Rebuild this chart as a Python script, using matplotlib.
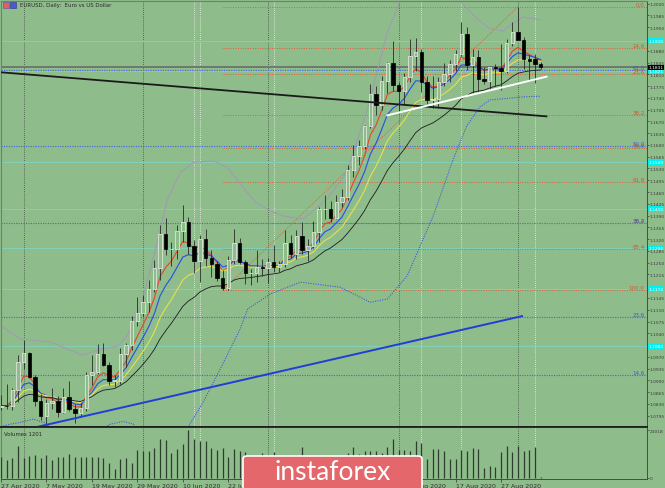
import matplotlib
matplotlib.use('Agg')
import matplotlib.pyplot as plt
import matplotlib.transforms as mtransforms
from matplotlib.patches import FancyBboxPatch, Rectangle
import numpy as np
import pandas as pd

# ---- EURUSD daily, 27 Apr 2020 .. 7 Sep 2020 (bar index 0..95) ----
opens = [1.0822, 1.0825, 1.0823, 1.0872, 1.0954, 1.0981, 1.0909, 1.0839, 1.0794, 1.0833,
         1.0840, 1.0806, 1.0851, 1.0815, 1.0803, 1.0819, 1.0917, 1.0925, 1.0977, 1.0947,
         1.0899, 1.0899, 1.0977, 1.1005, 1.1076, 1.1100, 1.1134, 1.1171, 1.1235, 1.1336,
         1.1290, 1.1292, 1.1343, 1.1371, 1.1299, 1.1255, 1.1319, 1.1263, 1.1246, 1.1203,
         1.1175, 1.1257, 1.1307, 1.1251, 1.1219, 1.1219, 1.1238, 1.1234, 1.1251, 1.1238,
         1.1246, 1.1309, 1.1275, 1.1329, 1.1288, 1.1300, 1.1342, 1.1410, 1.1411, 1.1383,
         1.1429, 1.1445, 1.1526, 1.1567, 1.1596, 1.1656, 1.1752, 1.1718, 1.1790, 1.1845,
         1.1778, 1.1760, 1.1801, 1.1863, 1.1876, 1.1787, 1.1735, 1.1738, 1.1786, 1.1812,
         1.1842, 1.1869, 1.1930, 1.1837, 1.1861, 1.1795, 1.1791, 1.1833, 1.1829, 1.1820,
         1.1903, 1.1935, 1.1913, 1.1855, 1.1856, 1.1842]
highs = [1.0855, 1.0890, 1.0877, 1.0974, 1.1019, 1.0985, 1.0915, 1.0858, 1.0845, 1.0876,
         1.0852, 1.0877, 1.0897, 1.0830, 1.0833, 1.0926, 1.0976, 1.1008, 1.1011, 1.0956,
         1.0915, 1.0996, 1.1010, 1.1090, 1.1147, 1.1153, 1.1198, 1.1258, 1.1361, 1.1384,
         1.1310, 1.1361, 1.1422, 1.1387, 1.1317, 1.1331, 1.1349, 1.1287, 1.1256, 1.1227,
         1.1269, 1.1349, 1.1322, 1.1259, 1.1232, 1.1287, 1.1260, 1.1263, 1.1302, 1.1256,
         1.1346, 1.1331, 1.1346, 1.1372, 1.1321, 1.1375, 1.1414, 1.1452, 1.1434, 1.1451,
         1.1470, 1.1539, 1.1601, 1.1616, 1.1660, 1.1782, 1.1776, 1.1806, 1.1846, 1.1909,
         1.1786, 1.1815, 1.1916, 1.1917, 1.1885, 1.1806, 1.1805, 1.1802, 1.1843, 1.1852,
         1.1882, 1.1966, 1.1951, 1.1884, 1.1883, 1.1833, 1.1835, 1.1840, 1.1901, 1.1916,
         1.1966, 1.2011, 1.1921, 1.1868, 1.1870, 1.1846]
lows = [1.0812, 1.0815, 1.0811, 1.0836, 1.0935, 1.0907, 1.0825, 1.0782, 1.0767, 1.0815,
        1.0791, 1.0803, 1.0810, 1.0774, 1.0790, 1.0810, 1.0887, 1.0918, 1.0942, 1.0885,
        1.0880, 1.0890, 1.0939, 1.0989, 1.1062, 1.1091, 1.1104, 1.1164, 1.1197, 1.1274,
        1.1239, 1.1260, 1.1311, 1.1277, 1.1220, 1.1193, 1.1241, 1.1208, 1.1196, 1.1168,
        1.1168, 1.1246, 1.1247, 1.1187, 1.1184, 1.1192, 1.1209, 1.1188, 1.1223, 1.1223,
        1.1238, 1.1263, 1.1260, 1.1277, 1.1256, 1.1293, 1.1311, 1.1380, 1.1370, 1.1379,
        1.1416, 1.1437, 1.1506, 1.1541, 1.1588, 1.1650, 1.1688, 1.1705, 1.1754, 1.1761,
        1.1696, 1.1721, 1.1786, 1.1819, 1.1756, 1.1723, 1.1711, 1.1710, 1.1776, 1.1788,
        1.1821, 1.1863, 1.1824, 1.1753, 1.1753, 1.1782, 1.1767, 1.1776, 1.1762, 1.1813,
        1.1893, 1.1914, 1.1827, 1.1789, 1.1785, 1.1826]
closes = [1.0825, 1.0823, 1.0872, 1.0954, 1.0981, 1.0909, 1.0839, 1.0794, 1.0833, 1.0840,
          1.0806, 1.0851, 1.0815, 1.0803, 1.0819, 1.0917, 1.0925, 1.0977, 1.0947, 1.0899,
          1.0899, 1.0977, 1.1005, 1.1076, 1.1100, 1.1134, 1.1171, 1.1235, 1.1336, 1.1290,
          1.1292, 1.1343, 1.1371, 1.1299, 1.1255, 1.1319, 1.1263, 1.1246, 1.1203, 1.1175,
          1.1257, 1.1307, 1.1251, 1.1219, 1.1219, 1.1238, 1.1234, 1.1251, 1.1238, 1.1246,
          1.1309, 1.1275, 1.1329, 1.1288, 1.1300, 1.1342, 1.1410, 1.1411, 1.1383, 1.1429,
          1.1445, 1.1526, 1.1567, 1.1596, 1.1656, 1.1752, 1.1718, 1.1790, 1.1845, 1.1778,
          1.1760, 1.1801, 1.1863, 1.1876, 1.1787, 1.1735, 1.1738, 1.1786, 1.1812, 1.1842,
          1.1869, 1.1930, 1.1837, 1.1861, 1.1795, 1.1791, 1.1833, 1.1829, 1.1820, 1.1903,
          1.1935, 1.1913, 1.1855, 1.1850, 1.1842, 1.1831]
volumes = [9000, 8030, 8610, 14160, 8610, 9780, 10070, 8610, 10070, 7880,
           9050, 9340, 10510, 9340, 9050, 9340, 9050, 9340, 8610, 6420,
           3940, 8320, 8610, 6570, 12410, 11970, 11970, 12990, 17080, 16640,
           10800, 12700, 14890, 21018, 17080, 16060, 16060, 13140, 12260, 13140,
           9340, 12700, 11970, 11240, 8800, 8500, 10950, 8800, 11530, 8600,
           9000, 10070, 10070, 13430, 9000, 9200, 8900, 9100, 8800, 9000,
           8500, 10950, 13430, 10510, 11680, 11970, 11680, 10950, 13430, 17080,
           12260, 12410, 11970, 16060, 15180, 8320, 12700, 12700, 11970, 8320,
           8320, 12260, 11830, 13140, 12700, 4380, 5400, 4960, 11240, 14160,
           11240, 14160, 11970, 12260, 13430, 580]

date_labels = ['27 Apr 2020', '7 May 2020', '19 May 2020', '29 May 2020', '10 Jun 2020',
               '22 Jun 2020', '2 Jul 2020', '14 Jul 2020', '24 Jul 2020', '5 Aug 2020',
               '17 Aug 2020', '27 Aug 2020']
date_label_bars = [0, 8, 16, 24, 32, 40, 48, 56, 64, 72, 80, 88]
month_start_bars = [4, 25, 47, 70, 91]
marker_bars = [34, 35, 48, 74, 81, 94]

# Bollinger-type bands: (bar, price)
upper_band_bars = [0, 3.4, 8.7, 11.7, 14.3, 17.5, 20.5, 22.2, 23.3, 24.5, 27.5, 29.3, 31.6,
                   33.9, 37.4, 39.8, 42.1, 44.8, 47.4, 49.7, 53.2, 57.4, 60.9, 64.5, 68.0,
                   69.7, 72.0, 76.4, 80.0, 80.8, 83.8, 86.1, 88.4, 90.1, 91.9, 95.0]
upper_band = [1.1062, 1.1023, 1.1014, 1.0993, 1.0975, 1.0993, 1.1002, 1.1032, 1.1076, 1.1112,
              1.1311, 1.1439, 1.1519, 1.1549, 1.1552, 1.1534, 1.1484, 1.1430, 1.1404, 1.1389,
              1.1380, 1.1439, 1.1519, 1.1707, 1.1936, 1.2004, 1.2123, 1.2168, 1.2049, 1.2028,
              1.1975, 1.1945, 1.1939, 1.1963, 1.1980, 1.1972]
lower_band_bars = [0, 1.7, 3.4, 5.7, 7.5, 8.7, 12.2, 15.8, 19.3, 21.5, 23.3, 25.4, 28.0,
                   30.7, 33.0, 35.6, 38.6, 42.1, 43.4, 47.4, 52.7, 59.7, 65.0, 68.0, 71.5,
                   76.1, 79.6, 82.0, 84.3, 86.1, 88.9, 91.9, 95.0]
lower_band = [1.0763, 1.0770, 1.0775, 1.0785, 1.0775, 1.0760, 1.0726, 1.0741, 1.0770, 1.0778,
              1.0770, 1.0711, 1.0711, 1.0726, 1.0763, 1.0836, 1.0934, 1.1053, 1.1112, 1.1157,
              1.1192, 1.1177, 1.1132, 1.1142, 1.1211, 1.1390, 1.1558, 1.1657, 1.1713, 1.1734,
              1.1738, 1.1743, 1.1745]

# moving average periods (red, blue, yellow, black)
ma_periods = [5, 8, 13, 21]

# Fibonacci grids
red_fib_levels = [0.0, 14.6, 23.6, 38.2, 50.0, 61.8, 76.4, 85.4, 100.0]
red_fib_high, red_fib_low = 1.2011, 1.1168
red_fib_bars = (39, 91)
blue_fib_levels = [14.6, 23.6, 38.2, 50.0, 61.8]
blue_fib_low, blue_fib_high = 1.0636, 1.2555

# support / resistance levels (cyan)
cyan_levels = [1.1910, 1.1821, 1.1549, 1.1410, 1.1295, 1.1172, 1.1002]
last_price = 1.1831

# trend lines: (bar0, price0, bar1, price1)
black_trend = (0, 1.1816, 96, 1.1685)
white_trend = (68, 1.1688, 96, 1.1803)
blue_trend = (0, 1.0737, 91.7, 1.1091)

price_ticks = [round(1.2020 - 0.0035 * k, 4) for k in range(36)]

# ---------------- drawing ----------------
BG = '#8fbc8b'
W, H = 665, 489
PX_PER_BAR = 5.686

fig = plt.figure(figsize=(W / 100, H / 100), dpi=100, facecolor=BG)
ax = fig.add_axes([1 / W, 61 / H, 646 / W, 426 / H], facecolor=BG)
axv = fig.add_axes([1 / W, 9 / H, 646 / W, 52 / H], facecolor=BG, sharex=ax)

x0 = (1 - 0.5) / PX_PER_BAR
x1 = (647 - 0.5) / PX_PER_BAR
ax.set_xlim(x0, x1)
ax.set_ylim(1.07613, 1.20280)
axv.set_ylim(-438, 22332)

o = np.array(opens)
h = np.array(highs)
l = np.array(lows)
c = np.array(closes)
idx = np.arange(len(c))

# vertical separators
for a in (ax, axv):
    for b in month_start_bars:
        a.axvline(b, color='#3f4f3f', ls=(0, (1, 1.5)), lw=0.6, zorder=1)
    for b in marker_bars:
        a.axvline(b, color='#eef4ec', ls=(0, (1, 1.5)), lw=0.6, zorder=1)

# cyan levels
for p in cyan_levels:
    ax.axhline(p, color='#7fd3c0', lw=0.6, zorder=1)

# blue fibonacci (full width)
for lev in blue_fib_levels:
    p = blue_fib_low + lev / 100 * (blue_fib_high - blue_fib_low)
    ax.axhline(p, color='#4466dd', ls=(0, (1, 1.2)), lw=0.8, zorder=1)

# red fibonacci (from anchor to the right)
for lev in red_fib_levels:
    p = red_fib_high - lev / 100 * (red_fib_high - red_fib_low)
    ax.plot([red_fib_bars[0], x1], [p, p], color='#d9603c', ls=(0, (1, 1.5)), lw=0.7, zorder=1)
ax.plot(red_fib_bars, [red_fib_low, red_fib_high], color='#d9603c', ls=(0, (1, 1.5)), lw=0.7, zorder=1)

# current price line
ax.axhline(last_price, color='#6c7a6c', lw=1.4, zorder=2)

# bands
ax.plot(upper_band_bars, upper_band, color='#a09cb4', lw=0.8, zorder=2)
ax.plot(lower_band_bars, lower_band, color='#3a5fd6', ls=(0, (1, 1.2)), lw=0.8, zorder=2)

# moving averages
ma_colors = ['#e8442c', '#2a4ee6', '#e4e24c', '#1c1c1c']
ma_widths = [0.8, 0.8, 0.8, 0.6]
cs = pd.Series(c)
for n, col, lw in zip(ma_periods, ma_colors, ma_widths):
    ax.plot(idx, cs.ewm(span=n, adjust=False).mean(), color=col, lw=lw, zorder=3)

# trend lines
ax.plot(black_trend[::2], black_trend[1::2], color='#1a1a1a', lw=1.3, zorder=6)
ax.plot(white_trend[::2], white_trend[1::2], color='#ffffff', lw=1.4, zorder=6)
ax.plot(blue_trend[::2], blue_trend[1::2], color='#1f3ed6', lw=1.4, zorder=6)

# candles
up = c >= o
ax.vlines(idx, l, h, color='#2a2a2a', lw=0.6, zorder=4)
body_up = np.maximum((c - o)[up], 0.00006)
body_dn = np.maximum((o - c)[~up], 0.00006)
ax.bar(idx[up], body_up, bottom=o[up], width=0.6, color=BG,
       edgecolor='#dde5da', lw=0.6, zorder=5)
ax.bar(idx[~up], body_dn, bottom=c[~up], width=0.6, color='#000000',
       edgecolor='#000000', lw=0.5, zorder=5)

# volumes
axv.vlines(idx, 0, volumes, color='#2e3e2e', lw=0.9, zorder=3)

# axes styling
ax.yaxis.tick_right()
ax.set_yticks(price_ticks)
ax.set_yticklabels([f'{t:.4f}' for t in price_ticks])
ax.tick_params(axis='y', labelsize=3.2, length=1.5, pad=0.4, colors='#3a3a3a', width=0.5)
ax.tick_params(axis='x', bottom=False, labelbottom=False)
for s in ('left', 'top'):
    ax.spines[s].set_color('#6f806f')
    ax.spines[s].set_linewidth(0.8)
ax.spines['right'].set_color('#4a4a4a')
ax.spines['right'].set_linewidth(0.7)
ax.spines['bottom'].set_color('#1f1f1f')
ax.spines['bottom'].set_linewidth(1.3)

axv.yaxis.tick_right()
axv.set_yticks([0, 21018])
axv.set_yticklabels(['0', '21018'])
axv.tick_params(axis='y', labelsize=3.2, length=1.5, pad=0.4, colors='#3a3a3a', width=0.5)
axv.set_xticks(date_label_bars)
axv.set_xticklabels(date_labels, ha='left')
axv.tick_params(axis='x', labelsize=4.5, length=2, pad=1, colors='#2f2f2f', width=0.5)
axv.spines['top'].set_color('#1f1f1f')
axv.spines['top'].set_linewidth(1.3)
axv.spines['left'].set_color('#6f806f')
for s in ('right', 'bottom'):
    axv.spines[s].set_color('#4a4a4a')
    axv.spines[s].set_linewidth(0.7)
axv.text(0.004, 0.93, 'Volumes 1201', transform=axv.transAxes, fontsize=3.9,
         color='#2a2a2a', va='top', ha='left')

# fib labels
tr = mtransforms.blended_transform_factory(ax.transAxes, ax.transData)
for lev in red_fib_levels:
    p = red_fib_high - lev / 100 * (red_fib_high - red_fib_low)
    ax.text(0.996, p, f'{lev:.1f}', transform=tr, fontsize=4.0, color='#d2552e',
            ha='right', va='bottom', zorder=7)
for lev in blue_fib_levels:
    p = blue_fib_low + lev / 100 * (blue_fib_high - blue_fib_low)
    ax.text(0.996, p, f'{lev:.1f}', transform=tr, fontsize=4.0, color='#3c58d8',
            ha='right', va='bottom', zorder=7)

# price boxes on the axis
for p in cyan_levels:
    ax.text(1.002, p, f'{p:.4f}', transform=tr, fontsize=3.2, color='white',
            ha='left', va='center', clip_on=False, zorder=8,
            bbox=dict(boxstyle='square,pad=0.15', fc='#00f0f0', ec='none'))
ax.text(1.002, last_price, f'{last_price:.4f}', transform=tr, fontsize=3.2, color='white',
        ha='left', va='center', clip_on=False, zorder=9,
        bbox=dict(boxstyle='square,pad=0.15', fc='#000000', ec='none'))

# title
fig.patches.append(Rectangle((3 / W, 1 - 9 / H), 6 / W, 6 / H, transform=fig.transFigure,
                             fc='#e06060', ec='#5050c0', lw=0.4))
fig.patches.append(Rectangle((10 / W, 1 - 9 / H), 6 / W, 6 / H, transform=fig.transFigure,
                             fc='#4a5ad0', ec='#303090', lw=0.4))
fig.text(20 / W, 1 - 6 / H, 'EURUSD, Daily:  Euro vs US Dollar', fontsize=3.9,
         color='#2a2a2a', va='center', ha='left')

# watermark logo
logo = FancyBboxPatch((243 / W, -8 / H), 179 / W, 40 / H, transform=fig.transFigure,
                      boxstyle='round,pad=0,rounding_size=0.006',
                      fc='#e4676b', ec='white', lw=1.2, zorder=10)
fig.patches.append(logo)
fig.text(333 / W, 1 - 472 / H, 'instaforex', fontsize=19, color='white', fontweight='normal',
         family=['Lato', 'Open Sans', 'DejaVu Sans'], ha='center', va='center', zorder=11)

fig.savefig('out.png', dpi=100, facecolor=BG)
